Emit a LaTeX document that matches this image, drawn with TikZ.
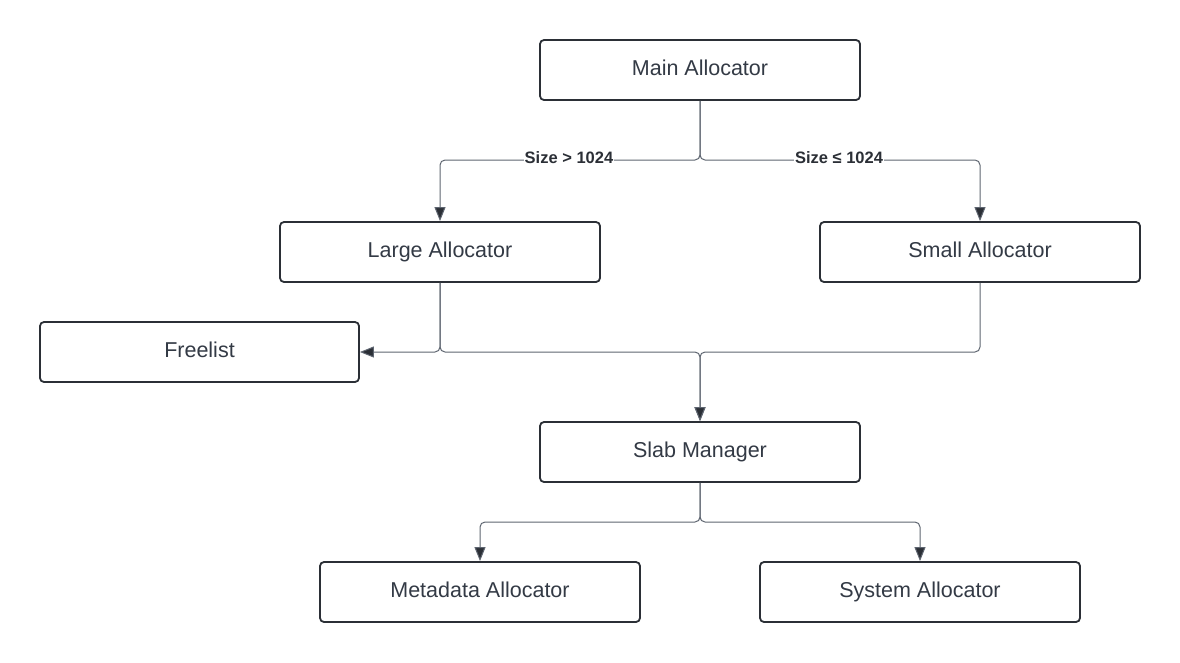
\documentclass[tikz,border=0pt]{standalone}
\usepackage{fontspec}
\setmainfont{Liberation Sans}
\usetikzlibrary{arrows.meta}
\definecolor{boxc}{HTML}{2B2F36}
\definecolor{linec}{HTML}{5F6671}
\definecolor{txtc}{HTML}{333A45}
\tikzset{
  box/.style={draw=boxc, line width=1.8pt, rounded corners=4pt, minimum width=320pt, minimum height=60pt, inner sep=0pt, text height=15pt, text depth=4pt, text=txtc, font=\fontsize{21.5}{24}\selectfont},
  conn/.style={draw=linec, line width=1pt, rounded corners=5pt},
  arr/.style={conn, -{Triangle[length=14pt,width=11pt,fill=boxc]}},
  lbl/.style={fill=white, inner sep=1pt, text=boxc, font=\fontsize{16.5}{18}\bfseries\selectfont}
}
\begin{document}
\begin{tikzpicture}[x=1pt,y=-1pt]
\useasboundingbox[fill=white] (0,0) rectangle (1180,662);
\node[box] (main) at (700,70) {Main Allocator};
\node[box] (large) at (440,252) {Large Allocator};
\node[box] (small) at (980,252) {Small Allocator};
\node[box, minimum width=319pt] (free) at (199.5,352) {Freelist};
\node[box] (slab) at (700,452) {Slab Manager};
\node[box] (meta) at (480,592) {Metadata Allocator};
\node[box] (sys) at (920,592) {System Allocator};
\coordinate (j1) at (700,160);
\coordinate (j2) at (700,352);
\coordinate (j3) at (700,522);
% main -> large/small
\draw[arr] (main.south) |- (j1) -| (large.north);
\draw[arr] (main.south) |- (j1) -| (small.north);
\node[lbl] at (569,158) {Size > 1024};
\node[lbl] at (839,158) {Size ≤ 1024};
% large -> freelist, slab
\draw[arr] (large.south) |- (free.east);
\draw[arr] (large.south) |- (j2) -- (slab.north);
\draw[arr] (small.south) |- (j2) -- (slab.north);
% slab -> meta/sys
\draw[arr] (slab.south) |- (j3) -| (meta.north);
\draw[arr] (slab.south) |- (j3) -| (sys.north);
\end{tikzpicture}
\end{document}
